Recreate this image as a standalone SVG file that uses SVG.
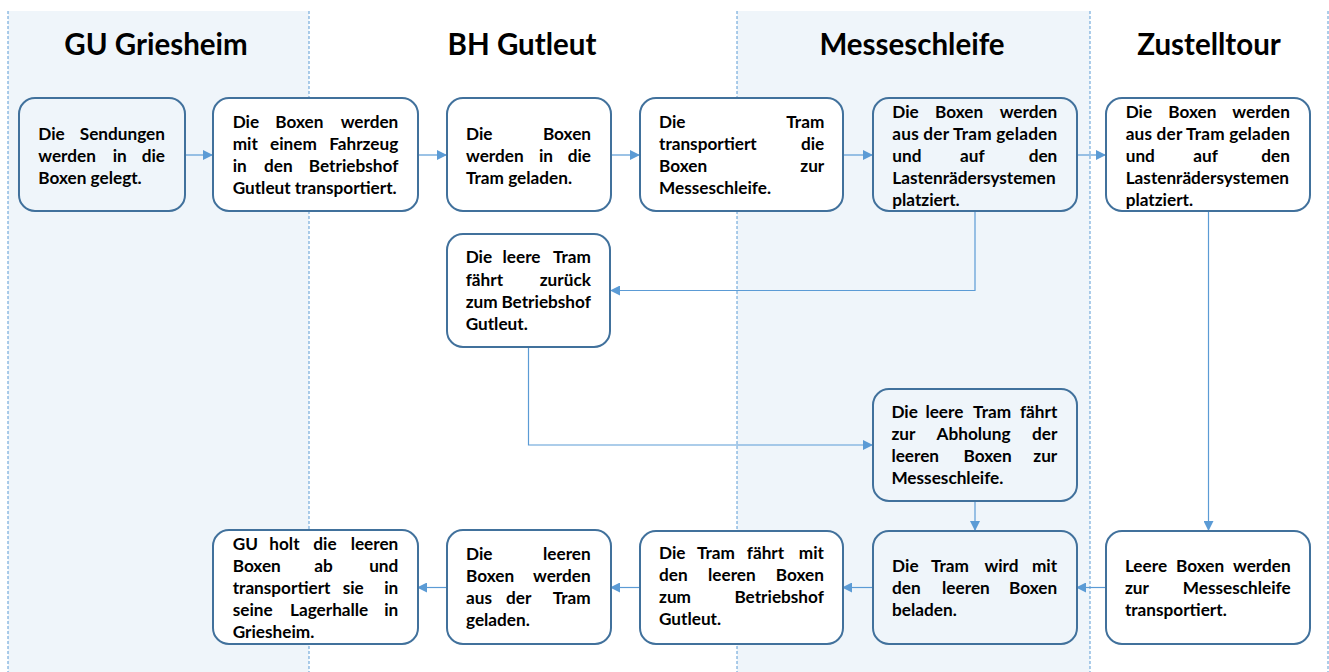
<svg xmlns="http://www.w3.org/2000/svg" width="1329" height="672" viewBox="0 0 1329 672">
<style>
.lane{fill:#eff5fa;}
.ll{stroke:#5b9bd5;stroke-width:1;stroke-dasharray:3,2;fill:none;}
.h{font-family:Lato,"Open Sans",sans-serif;font-weight:700;font-size:29.5px;fill:#000;text-anchor:middle;}
.n{fill:#ffffff;stroke:#41719c;stroke-width:2;}
.ns{fill:#eff5fa;stroke:#41719c;stroke-width:2;}
.t{font-family:Lato,"Open Sans",sans-serif;font-weight:700;font-size:17.2px;fill:#000;}
.e{text-anchor:end;}
.c{fill:none;stroke:#5b9bd5;stroke-width:1.2;}
</style>
<defs>
<marker id="ar" markerWidth="10" markerHeight="10" refX="9" refY="5" orient="auto" markerUnits="userSpaceOnUse">
<path d="M0,0 L10,5 L0,10 Z" fill="#5b9bd5"/>
</marker>
</defs>
<rect width="1329" height="672" fill="#ffffff"/>
<g id="lanes">
<rect class="lane" x="8" y="11" width="301" height="661"/>
<rect class="lane" x="737" y="11" width="353" height="661"/>
<line class="ll" x1="8" y1="11" x2="8" y2="672"/>
<line class="ll" x1="309" y1="11" x2="309" y2="672"/>
<line class="ll" x1="737" y1="11" x2="737" y2="672"/>
<line class="ll" x1="1090" y1="11" x2="1090" y2="672"/>
<line class="ll" x1="1328" y1="11" x2="1328" y2="672"/>
<text class="h" x="156" y="55">GU Griesheim</text>
<text class="h" x="522" y="55">BH Gutleut</text>
<text class="h" x="912" y="55">Messeschleife</text>
<text class="h" x="1209" y="55">Zustelltour</text>
</g>
<g id="connectors">
<path class="c" d="M185,155 H212" marker-end="url(#ar)"/>
<path class="c" d="M418,155 H446" marker-end="url(#ar)"/>
<path class="c" d="M611,155 H639" marker-end="url(#ar)"/>
<path class="c" d="M843,155 H872" marker-end="url(#ar)"/>
<path class="c" d="M1077,155 H1105" marker-end="url(#ar)"/>
<path class="c" d="M975,212 V290.5 H611" marker-end="url(#ar)"/>
<path class="c" d="M528.5,347 V445 H872" marker-end="url(#ar)"/>
<path class="c" d="M975,502 V530" marker-end="url(#ar)"/>
<path class="c" d="M1208.5,212 V530" marker-end="url(#ar)"/>
<path class="c" d="M1106,587.5 H1077" marker-end="url(#ar)"/>
<path class="c" d="M873,587.5 H843" marker-end="url(#ar)"/>
<path class="c" d="M640,587.5 H611" marker-end="url(#ar)"/>
<path class="c" d="M447,587.5 H418" marker-end="url(#ar)"/>
</g>
<g id="n1">
<rect class="ns" x="19" y="98" width="166" height="113" rx="16"/>
<text class="t" x="38.3" y="139.5">Die</text><text class="t e" x="165" y="139.5">Sendungen</text>
<text class="t" x="38.3" y="161.5">werden</text><text class="t" x="112.7" y="161.5">in</text><text class="t e" x="165" y="161.5">die</text>
<text class="t" x="38.3" y="183.5">Boxen gelegt.</text>
</g>
<g id="n2">
<rect class="n" x="213" y="98" width="205" height="113" rx="16"/>
<text class="t" x="232.7" y="128.3">Die</text><text class="t" x="275.3" y="128.3">Boxen</text><text class="t e" x="398.3" y="128.3">werden</text>
<text class="t" x="232.7" y="150.3">mit</text><text class="t" x="270" y="150.3">einem</text><text class="t e" x="398.3" y="150.3">Fahrzeug</text>
<text class="t" x="232.7" y="172.3">in</text><text class="t" x="264" y="172.3">den</text><text class="t e" x="398.3" y="172.3">Betriebshof</text>
<text class="t" x="232.7" y="194.3">Gutleut transportiert.</text>
</g>
<g id="n3">
<rect class="n" x="447" y="98" width="164" height="113" rx="16"/>
<text class="t" x="466" y="139.5">Die</text><text class="t e" x="591" y="139.5">Boxen</text>
<text class="t" x="466" y="161.5">werden</text><text class="t" x="539" y="161.5">in</text><text class="t e" x="591" y="161.5">die</text>
<text class="t" x="466" y="183.5">Tram geladen.</text>
</g>
<g id="n4">
<rect class="n" x="640" y="98" width="203" height="113" rx="16"/>
<text class="t" x="659" y="128.3">Die</text><text class="t e" x="824.3" y="128.3">Tram</text>
<text class="t" x="659" y="150.3">transportiert</text><text class="t e" x="824.3" y="150.3">die</text>
<text class="t" x="659" y="172.3">Boxen</text><text class="t e" x="824.3" y="172.3">zur</text>
<text class="t" x="659" y="194.3">Messeschleife.</text>
</g>
<g id="n5">
<rect class="ns" x="873" y="98" width="204" height="113" rx="16"/>
<text class="t" x="892.3" y="117.5">Die</text><text class="t" x="935" y="117.5">Boxen</text><text class="t e" x="1057.3" y="117.5">werden</text>
<text class="t" x="892.3" y="139.5" textLength="165" lengthAdjust="spacing">aus der Tram geladen</text>
<text class="t" x="892.3" y="161.5">und</text><text class="t" x="960" y="161.5">auf</text><text class="t e" x="1057.3" y="161.5">den</text>
<text class="t" x="892.3" y="183.5">Lastenrädersystemen</text>
<text class="t" x="892.3" y="205.5">platziert.</text>
</g>
<g id="n6">
<rect class="n" x="1106" y="98" width="204" height="113" rx="16"/>
<text class="t" x="1125.7" y="117.5">Die</text><text class="t" x="1168.3" y="117.5">Boxen</text><text class="t e" x="1290" y="117.5">werden</text>
<text class="t" x="1125.7" y="139.5" textLength="164.3" lengthAdjust="spacing">aus der Tram geladen</text>
<text class="t" x="1125.7" y="161.5">und</text><text class="t" x="1193.3" y="161.5">auf</text><text class="t e" x="1290" y="161.5">den</text>
<text class="t" x="1125.7" y="183.5">Lastenrädersystemen</text>
<text class="t" x="1125.7" y="205.5">platziert.</text>
</g>
<g id="n7">
<rect class="n" x="447" y="234" width="163" height="113" rx="16"/>
<text class="t" x="465.7" y="263.3">Die</text><text class="t" x="502.5" y="263.3">leere</text><text class="t e" x="590.9" y="263.3">Tram</text>
<text class="t" x="465.7" y="285.5">fährt</text><text class="t e" x="590.9" y="285.5">zurück</text>
<text class="t" x="465.7" y="307.5">zum</text><text class="t e" x="590.9" y="307.5">Betriebshof</text>
<text class="t" x="465.7" y="329.5">Gutleut.</text>
</g>
<g id="n8">
<rect class="ns" x="873" y="389" width="204" height="112" rx="16"/>
<text class="t" x="891.4" y="418.3">Die</text><text class="t" x="925.4" y="418.3">leere</text><text class="t" x="973.1" y="418.3">Tram</text><text class="t e" x="1057.3" y="418.3">fährt</text>
<text class="t" x="891.4" y="440.3">zur</text><text class="t" x="936.6" y="440.3">Abholung</text><text class="t e" x="1057.3" y="440.3">der</text>
<text class="t" x="891.4" y="462.3">leeren</text><text class="t" x="963.6" y="462.3">Boxen</text><text class="t e" x="1057.3" y="462.3">zur</text>
<text class="t" x="891.4" y="484.3">Messeschleife.</text>
</g>
<g id="n9">
<rect class="n" x="213" y="530" width="205" height="114" rx="16"/>
<text class="t" x="232.7" y="549.5">GU</text><text class="t" x="269.3" y="549.5">holt</text><text class="t" x="313.3" y="549.5">die</text><text class="t e" x="398.3" y="549.5">leeren</text>
<text class="t" x="232.7" y="571.7">Boxen</text><text class="t" x="314.3" y="571.7">ab</text><text class="t e" x="398.3" y="571.7">und</text>
<text class="t" x="232.7" y="593.9">transportiert</text><text class="t" x="342.7" y="593.9">sie</text><text class="t e" x="398.3" y="593.9">in</text>
<text class="t" x="232.7" y="616.1">seine</text><text class="t" x="290" y="616.1">Lagerhalle</text><text class="t e" x="398.3" y="616.1">in</text>
<text class="t" x="232.7" y="638.3">Griesheim.</text>
</g>
<g id="n10">
<rect class="n" x="447" y="530" width="164" height="114" rx="16"/>
<text class="t" x="466" y="560">Die</text><text class="t e" x="590.7" y="560">leeren</text>
<text class="t" x="466" y="582">Boxen</text><text class="t e" x="590.7" y="582">werden</text>
<text class="t" x="466" y="604">aus</text><text class="t" x="506" y="604">der</text><text class="t e" x="590.7" y="604">Tram</text>
<text class="t" x="466" y="626">geladen.</text>
</g>
<g id="n11">
<rect class="n" x="640" y="531" width="203" height="113" rx="16"/>
<text class="t" x="659" y="559.3">Die</text><text class="t" x="696.9" y="559.3">Tram</text><text class="t" x="746.8" y="559.3">fährt</text><text class="t e" x="823.9" y="559.3">mit</text>
<text class="t" x="659" y="581.3">den</text><text class="t" x="708" y="581.3">leeren</text><text class="t e" x="823.9" y="581.3">Boxen</text>
<text class="t" x="659" y="603.3">zum</text><text class="t e" x="823.9" y="603.3">Betriebshof</text>
<text class="t" x="659" y="625.3">Gutleut.</text>
</g>
<g id="n12">
<rect class="ns" x="873" y="531" width="204" height="113" rx="16"/>
<text class="t" x="892.1" y="571.7">Die</text><text class="t" x="930.9" y="571.7">Tram</text><text class="t" x="984.4" y="571.7">wird</text><text class="t e" x="1057.1" y="571.7">mit</text>
<text class="t" x="892.1" y="593.7">den</text><text class="t" x="942.1" y="593.7">leeren</text><text class="t e" x="1057.1" y="593.7">Boxen</text>
<text class="t" x="892.1" y="615.7">beladen.</text>
</g>
<g id="n13">
<rect class="n" x="1106" y="531" width="204" height="113" rx="16"/>
<text class="t" x="1124.9" y="571.7">Leere</text><text class="t" x="1176.1" y="571.7">Boxen</text><text class="t e" x="1290.7" y="571.7">werden</text>
<text class="t" x="1124.9" y="593.7">zur</text><text class="t e" x="1290.7" y="593.7">Messeschleife</text>
<text class="t" x="1124.9" y="615.7">transportiert.</text>
</g>
</svg>
